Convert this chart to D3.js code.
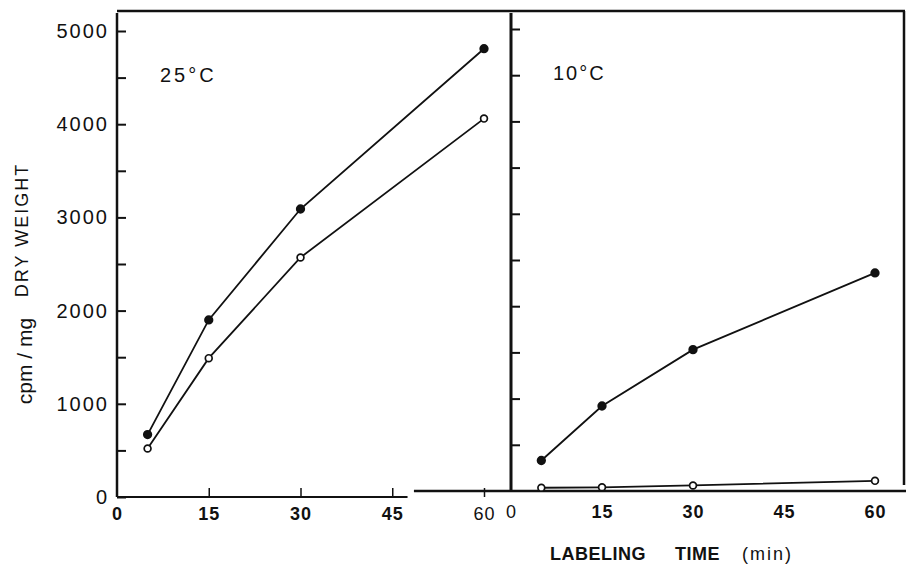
<!DOCTYPE html>
<html>
<head>
<meta charset="utf-8">
<script src="https://cdn.jsdelivr.net/npm/d3@7"></script>
<style>
body { margin: 0; background: #fff; }
svg { display: block; font-family: "Liberation Sans", Arial, sans-serif; }
</style>
</head>
<body>
<div id="chart"></div>
<script>
const width = 908;
const height = 572;

// labeling times (min)
const times = [5, 15, 30, 60];
const xTicks = [0, 15, 30, 45, 60];
const yTicks = [0, 500, 1000, 1500, 2000, 2500, 3000, 3500, 4000, 4500, 5000];

// cpm/mg dry weight
const warmFilled = [670, 1900, 3090, 4810];
const warmOpen = [520, 1490, 2570, 4060];
const coldFilled = [330, 920, 1530, 2360];
const coldOpen = [35, 40, 60, 110];

const svg = d3.select("#chart")
    .append("svg")
    .attr("width", width)
    .attr("height", height);

// two panels sharing the same value scale
const xL = d3.scaleLinear().domain([0, 60]).range([117, 484]);
const xR = d3.scaleLinear().domain([0, 60]).range([511, 875]);
const yL = d3.scaleLinear().domain([0, 5000]).range([497, 31]);
const yR = d3.scaleLinear().domain([0, 5000]).range([491, 29]);

const ink = "#111";

// frame: top and right border
svg.append("line")
    .attr("x1", xL(0)).attr("x2", 905)
    .attr("y1", 11).attr("y2", 11)
    .attr("stroke", ink).attr("stroke-width", 2.5);
svg.append("line")
    .attr("x1", 904).attr("x2", 904)
    .attr("y1", 11).attr("y2", 485)
    .attr("stroke", ink).attr("stroke-width", 2.5);

// left y axis
const axL = svg.append("g")
    .attr("transform", `translate(${xL(0)},0)`)
    .call(d3.axisLeft(yL)
        .tickValues(yTicks)
        .tickSize(-9)
        .tickPadding(8)
        .tickFormat(d => d % 1000 === 0 ? d : ""));
axL.select(".domain").remove();
axL.selectAll(".tick line").attr("stroke", ink).attr("stroke-width", 2);
axL.selectAll(".tick text")
    .style("font-size", "20px")
    .style("letter-spacing", "2px")
    .attr("fill", ink);
svg.append("line")
    .attr("x1", xL(0)).attr("x2", xL(0))
    .attr("y1", 13).attr("y2", yL(0))
    .attr("stroke", ink).attr("stroke-width", 2.5);

// left x axis
const axLB = svg.append("g")
    .attr("transform", `translate(0,${yL(0)})`)
    .call(d3.axisBottom(xL)
        .tickValues(xTicks)
        .tickSize(-9)
        .tickPadding(10));
axLB.select(".domain").remove();
axLB.selectAll(".tick line")
    .attr("stroke", ink).attr("stroke-width", 1.5)
    .attr("opacity", d => d === 0 ? 0 : 1);
axLB.selectAll(".tick text")
    .style("font-size", "18px")
    .style("font-weight", d => d === 60 ? "normal" : "bold")
    .style("letter-spacing", "1px")
    .attr("fill", ink);
svg.append("line")
    .attr("x1", xL(0)).attr("x2", xL(47.5))
    .attr("y1", yL(0)).attr("y2", yL(0))
    .attr("stroke", ink).attr("stroke-width", 2);

// right y axis
const axR = svg.append("g")
    .attr("transform", `translate(${xR(0)},0)`)
    .call(d3.axisLeft(yR)
        .tickValues(yTicks.filter(d => d > 0))
        .tickSize(-9)
        .tickFormat(""));
axR.select(".domain").remove();
axR.selectAll(".tick line").attr("stroke", ink).attr("stroke-width", 2);
svg.append("line")
    .attr("x1", xR(0)).attr("x2", xR(0))
    .attr("y1", 13).attr("y2", yR(0))
    .attr("stroke", ink).attr("stroke-width", 3);

// right x axis
const axRB = svg.append("g")
    .attr("transform", `translate(0,${yR(0)})`)
    .call(d3.axisBottom(xR)
        .tickValues(xTicks)
        .tickSize(0)
        .tickPadding(14));
axRB.select(".domain").remove();
axRB.selectAll(".tick text")
    .style("font-size", "18px")
    .style("font-weight", d => d === 0 ? "normal" : "bold")
    .style("letter-spacing", "1px")
    .attr("fill", ink);
svg.append("line")
    .attr("x1", xR(-16)).attr("x2", 906)
    .attr("y1", yR(0)).attr("y2", yR(0))
    .attr("stroke", ink).attr("stroke-width", 2.5);

// data series
function drawSeries(x, y, values, filled) {
    const line = d3.line()
        .x((d, i) => x(times[i]))
        .y(d => y(d));
    svg.append("path")
        .datum(values)
        .attr("d", line)
        .attr("fill", "none")
        .attr("stroke", ink)
        .attr("stroke-width", 1.8);
    svg.selectAll(null)
        .data(values)
        .enter()
        .append("circle")
        .attr("cx", (d, i) => x(times[i]))
        .attr("cy", d => y(d))
        .attr("r", filled ? 3.8 : 3.4)
        .attr("fill", filled ? ink : "#fff")
        .attr("stroke", ink)
        .attr("stroke-width", 1.7);
}

drawSeries(xL, yL, warmFilled, true);
drawSeries(xL, yL, warmOpen, false);
drawSeries(xR, yR, coldFilled, true);
drawSeries(xR, yR, coldOpen, false);

// panel labels
svg.append("text")
    .attr("x", 160).attr("y", 82)
    .style("font-size", "20px")
    .style("letter-spacing", "3px")
    .attr("fill", ink)
    .text("25°C");
svg.append("text")
    .attr("x", 553).attr("y", 80)
    .style("font-size", "20px")
    .style("letter-spacing", "2px")
    .attr("fill", ink)
    .text("10°C");

// y axis title
svg.append("text")
    .attr("transform", "translate(32,361) rotate(-90)")
    .attr("text-anchor", "middle")
    .style("font-size", "21px")
    .attr("fill", ink)
    .text("cpm / mg");
svg.append("text")
    .attr("transform", "translate(28,230) rotate(-90)")
    .attr("text-anchor", "middle")
    .style("font-size", "18px")
    .style("letter-spacing", "2px")
    .attr("fill", ink)
    .text("DRY WEIGHT");

// x axis title
const xt = svg.append("text")
    .attr("y", 560)
    .attr("fill", ink)
    .style("font-size", "18px");
xt.append("tspan").attr("x", 550)
    .style("font-weight", "bold").style("letter-spacing", "0.5px")
    .text("LABELING");
xt.append("tspan").attr("x", 675)
    .style("font-weight", "bold").style("letter-spacing", "0.5px")
    .text("TIME");
xt.append("tspan").attr("x", 742)
    .style("letter-spacing", "2px")
    .text("(min)");
</script>
</body>
</html>
